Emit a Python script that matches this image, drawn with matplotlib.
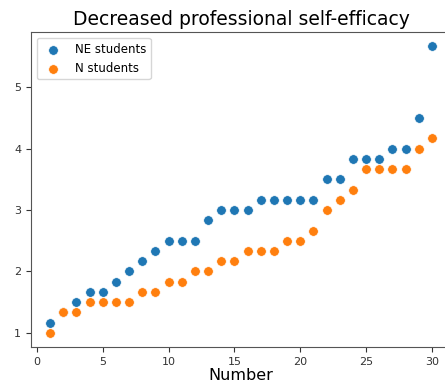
import numpy as np
from matplotlib import pyplot as plt

number = list(range(1, 31))

ne_students = [1.167, 1.333, 1.5, 1.667, 1.667, 1.833, 2.0, 2.167, 2.333, 2.5,
               2.5, 2.5, 2.833, 3.0, 3.0, 3.0, 3.167, 3.167, 3.167, 3.167,
               3.167, 3.5, 3.5, 3.833, 3.833, 3.833, 4.0, 4.0, 4.5, 5.667]

n_students = [1.0, 1.333, 1.333, 1.5, 1.5, 1.5, 1.5, 1.667, 1.667, 1.833,
              1.833, 2.0, 2.0, 2.167, 2.167, 2.333, 2.333, 2.333, 2.5, 2.5,
              2.667, 3.0, 3.167, 3.333, 3.667, 3.667, 3.667, 3.667, 4.0, 4.167]

fig = plt.figure(figsize=(4.45, 3.87), dpi=100)
ax = fig.add_axes([0.0697, 0.103, 0.944, 0.814])

ax.scatter(number, ne_students, s=48, color='#1f77b4', edgecolor='white', linewidth=0.5, label='NE students')
ax.scatter(number, n_students, s=48, color='#ff7f0e', edgecolor='white', linewidth=0.5, label='N students')

ax.set_title('Decreased professional self-efficacy', fontsize=13.5, pad=5)
ax.set_xlabel('Number', fontsize=11.5, labelpad=1)
ax.set_xticks([0, 5, 10, 15, 20, 25, 30])
ax.set_yticks([1, 2, 3, 4, 5])
ax.tick_params(labelsize=8, colors='#333333')
for sp in ax.spines.values():
    sp.set_color('#555555')

ax.legend(loc='upper left', fontsize=8.5)

plt.savefig('out.png', dpi=100)
